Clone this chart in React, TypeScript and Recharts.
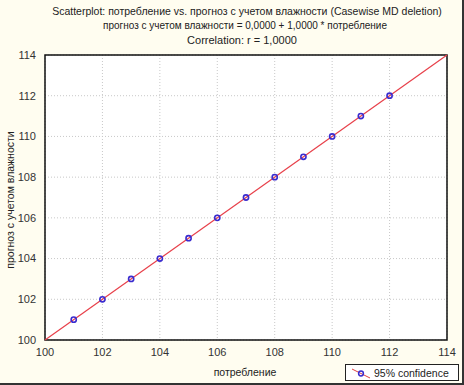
import React from "react";
import { ScatterChart, Scatter, XAxis, YAxis, CartesianGrid, ReferenceLine, ReferenceArea } from "recharts";

const consumption = [101, 102, 103, 104, 105, 106, 107, 108, 109, 110, 111, 112];
const forecast = [101, 102, 103, 104, 105, 106, 107, 108, 109, 110, 111, 112];
const xTicks = [100, 102, 104, 106, 108, 110, 112, 114];
const yTicks = [100, 102, 104, 106, 108, 110, 112, 114];
const intercept = 0;
const slope = 1;

const points = consumption.map((x, i) => ({ x, y: forecast[i] }));
const font = "'Liberation Sans', Arial, sans-serif";

const Dot = (props: any) => {
  const { cx, cy } = props;
  return <circle cx={cx} cy={cy} r={2.6} fill="none" stroke="#3a2ccf" strokeWidth={1.6} />;
};

export default function App() {
  const x0 = xTicks[0];
  const x1 = xTicks[xTicks.length - 1];
  return (
    <div
      style={{
        position: "absolute",
        left: 0,
        top: 0,
        width: 464,
        height: 385,
        background: "#fffdf0",
        fontFamily: font,
        boxSizing: "border-box",
        borderRight: "2px solid #333",
        borderBottom: "2px solid #333",
      }}
    >
      <div style={{ position: "absolute", top: 5, left: 0, width: 494, textAlign: "center", fontSize: 10.5, color: "#222" }}>
        Scatterplot: потребление vs. прогноз с учетом влажности (Casewise MD deletion)
      </div>
      <div style={{ position: "absolute", top: 20, left: 0, width: 490, textAlign: "center", fontSize: 10, color: "#222" }}>
        прогноз с учетом влажности = 0,0000 + 1,0000 * потребление
      </div>
      <div style={{ position: "absolute", top: 34, left: 0, width: 484, textAlign: "center", fontSize: 11, color: "#222" }}>
        Correlation: r = 1,0000
      </div>
      <div
        style={{
          position: "absolute",
          left: 10,
          top: 200,
          transform: "translate(-50%, -50%) rotate(-90deg)",
          whiteSpace: "nowrap",
          fontSize: 10.5,
          color: "#222",
        }}
      >
        прогноз с учетом влажности
      </div>
      <div style={{ position: "absolute", top: 366, left: 0, width: 490, textAlign: "center", fontSize: 10.5, color: "#222" }}>
        потребление
      </div>
      <div
        style={{
          position: "absolute",
          left: 345,
          top: 364,
          width: 114,
          height: 17,
          border: "1px solid #222",
          boxSizing: "border-box",
          background: "#fff",
          fontSize: 10.5,
          color: "#222",
          display: "flex",
          alignItems: "center",
        }}
      >
        <svg width={22} height={14} style={{ marginLeft: 4 }}>
          <line x1={2} y1={3} x2={20} y2={12} stroke="#e04040" strokeWidth={1} />
          <circle cx={11} cy={7.5} r={2.4} fill="none" stroke="#3a2ccf" strokeWidth={1.5} />
        </svg>
        <span style={{ marginLeft: 2 }}>95% confidence</span>
      </div>
      <div style={{ position: "absolute", left: 0, top: 0 }}>
        <ScatterChart width={464} height={385} margin={{ top: 55, right: 17, bottom: 0, left: 0 }}>
          <CartesianGrid fill="#ffffff" stroke="#c8c8c8" strokeDasharray="1 2" />
          <XAxis
            type="number"
            dataKey="x"
            domain={[x0, x1]}
            ticks={xTicks}
            height={45}
            axisLine={false}
            tickLine={false}
            tick={{ fontSize: 11, fill: "#333", fontFamily: font }}
            tickMargin={2}
          />
          <YAxis
            type="number"
            dataKey="y"
            domain={[yTicks[0], yTicks[yTicks.length - 1]]}
            ticks={yTicks}
            width={45}
            axisLine={false}
            tickLine={false}
            tick={{ fontSize: 11, fill: "#333", fontFamily: font }}
            tickMargin={3}
          />
          <ReferenceArea x1={x0} x2={x1} y1={yTicks[0]} y2={yTicks[yTicks.length - 1]} fill="none" stroke="#111" strokeWidth={1.5} />
          <ReferenceLine
            segment={[
              { x: x0, y: intercept + slope * x0 },
              { x: x1, y: intercept + slope * x1 },
            ]}
            stroke="#e8404a"
            strokeWidth={1.2}
          />
          <Scatter data={points} shape={<Dot />} isAnimationActive={false} />
        </ScatterChart>
      </div>
    </div>
  );
}
